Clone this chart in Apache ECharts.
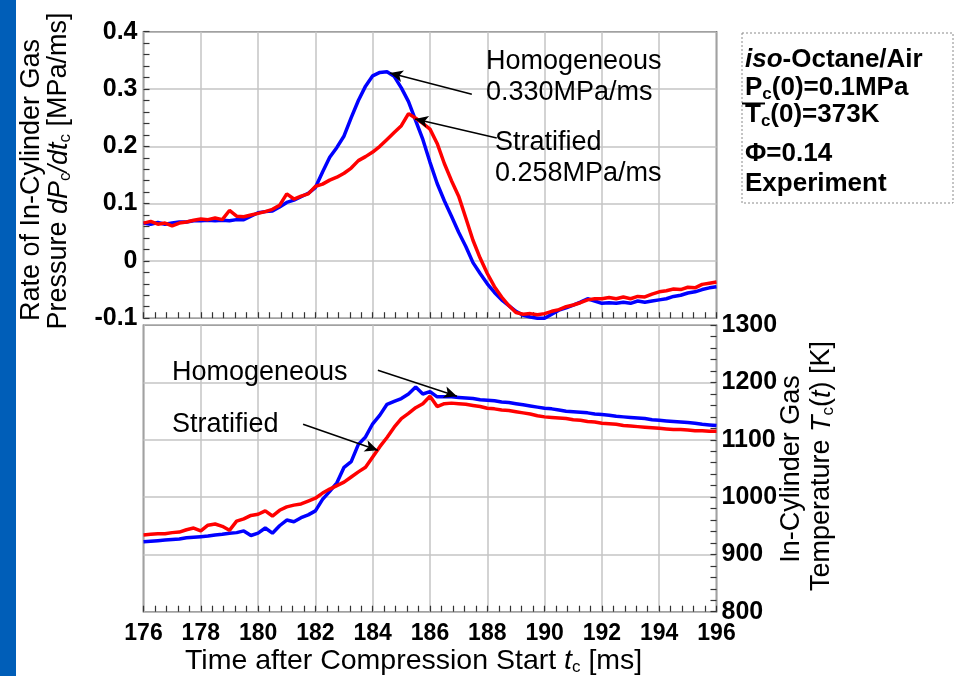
<!DOCTYPE html>
<html><head><meta charset="utf-8">
<script src="https://cdn.jsdelivr.net/npm/echarts@6.0.0/dist/echarts.min.js"></script>
<style>html,body{margin:0;padding:0;background:#fff}#c{width:957px;height:676px}</style>
</head><body><div id="c"></div>
<script>
// ---- data ----
const time = [176,176.25,176.5,176.75,177,177.25,177.5,177.75,178,178.25,178.5,178.75,179,179.25,179.5,179.75,180,180.25,180.5,180.75,181,181.25,181.5,181.75,182,182.25,182.5,182.75,183,183.25,183.5,183.75,184,184.25,184.5,184.75,185,185.25,185.5,185.75,186,186.25,186.5,186.75,187,187.25,187.5,187.75,188,188.25,188.5,188.75,189,189.25,189.5,189.75,190,190.25,190.5,190.75,191,191.25,191.5,191.75,192,192.25,192.5,192.75,193,193.25,193.5,193.75,194,194.25,194.5,194.75,195,195.25,195.5,195.75,196];

// dPc/dtc [MPa/ms]
const dpHomogeneous = [
  .066,.064,.067,.064, .066,.068,.068,.070, .070,.071,.070,.071, .070,.072,.072,.078,
  .084,.086,.087,.094, .102,.106,.112,.118, .128,.155,.181,.198, .218,.250,.280,.305,
  .323,.329,.330,.322, .302,.278,.245,.212, .172,.135,.105,.078, .050,.025,-.003,-.022,
  -.040,-.055,-.068,-.078, -.088,-.095,-.098,-.100, -.100,-.093,-.086,-.082, -.077,-.072,-.066,-.070,
  -.074,-.073,-.074,-.072, -.074,-.070,-.072,-.070, -.068,-.066,-.062,-.060, -.056,-.054,-.050,-.047,
  -.045];
const dpStratified = [
  .066,.069,.064,.066, .061,.066,.068,.071, .073,.072,.075,.072, .088,.078,.077,.080,
  .083,.086,.090,.097, .117,.108,.113,.117, .130,.134,.141,.146, .153,.162,.175,.182,
  .190,.200,.212,.224, .236,.257,.249,.240, .230,.205,.170,.140, .113,.075,.036,.005,
  -.022,-.045,-.063,-.078, -.090,-.093,-.092,-.094, -.092,-.088,-.085,-.080, -.077,-.073,-.068,-.066,
  -.066,-.064,-.066,-.063, -.066,-.062,-.063,-.058, -.054,-.052,-.049,-.050, -.046,-.047,-.041,-.039,
  -.037];

// Tc(t) [K]
const tempHomogeneous = [
  922,923,924,925, 926,927,929,930, 931,932,934,935, 937,938,941,933,
  937,946,937,950, 960,957,964,969, 976,996,1010,1025, 1052,1062,1092,1105,
  1128,1143,1162,1167, 1172,1180,1192,1180, 1184,1175,1175,1175, 1174,1173,1172,1170,
  1169,1168,1166,1165, 1163,1161,1159,1157, 1155,1154,1152,1150, 1149,1148,1147,1145,
  1144,1143,1141,1140, 1139,1138,1137,1135, 1134,1133,1132,1131, 1130,1129,1127,1126,
  1125];
const tempStratified = [
  934,935,936,936, 938,939,943,946, 941,951,953,949, 942,958,962,968,
  970,976,967,977, 983,986,988,993, 998,1007,1014,1020, 1026,1035,1044,1052,
  1070,1088,1104,1122, 1137,1146,1156,1163, 1176,1158,1163,1164, 1163,1162,1160,1158,
  1155,1154,1152,1151, 1149,1147,1145,1142, 1140,1139,1138,1137, 1135,1134,1132,1131,
  1129,1128,1127,1125, 1124,1123,1122,1121, 1120,1119,1118,1118, 1117,1116,1116,1115,
  1115];

const xTicks = [176,178,180,182,184,186,188,190,192,194,196];
const dpTicks = [-0.1,0,0.1,0.2,0.3,0.4];
const tempTicks = [800,900,1000,1100,1200,1300];

// annotation arrows (data coordinates: [from], [to])
const arrowsTop = [[[187.46,0.291],[184.6,0.328]], [[188.33,0.2145],[185.48,0.2477]]];
const arrowsBottom = [[[184.18,1221.5],[186.94,1176.1]], [[181.57,1127.2],[184.18,1081.8]]];

// ---- chart ----
const F = '"Liberation Sans", Arial, sans-serif';
const chart = echarts.init(document.getElementById('c'), null, {renderer:'canvas'});

const zip = (a) => time.map((t,i)=>[t,a[i]]);
const arrowML = (list) => ({
  silent: true, animation: false,
  symbol: ['none','arrow'], symbolSize: [9,13],
  label: {show:false},
  lineStyle: {color:'#000', width:1.5, type:'solid'},
  emphasis: {disabled:true},
  data: list.map(p => [{coord:p[0]},{coord:p[1]}])
});

const tick = {show:true, inside:true, length:6, lineStyle:{color:'#333', width:1.2}};
const minor = {show:true, splitNumber:5, length:6, lineStyle:{color:'#333', width:1.2}};
const split = {show:true, lineStyle:{color:'#c4c4c4', width:1.5}};

const sub = {fontSize:17, fontFamily:F, verticalAlign:'bottom', lineHeight:16, fill:'#000'};

function txt(x, y, text, rich, opts) {
  return Object.assign({type:'text', x, y, z:100, style:Object.assign({text, rich, fill:'#000', font:'27px '+F, align:'left', verticalAlign:'middle'}, opts && opts.style || {})}, opts && opts.el || {});
}
const baseRich = (size, weight) => ({
  a:{fontSize:size, fontFamily:F, fontWeight:weight, lineHeight:30, fill:'#000'},
  i:{fontSize:size, fontFamily:F, fontWeight:weight, fontStyle:'italic', lineHeight:30, fill:'#000'},
  s:Object.assign({}, sub, {fontWeight:weight})
});

const option = {
  animation:false,
  backgroundColor:'#fff',
  grid:[
    {left:143.5, top:31.7, width:573, height:286.5, show:true, borderColor:'#3a3a3a', borderWidth:1.5, backgroundColor:'transparent'},
    {left:143.5, top:325.2, width:573, height:286.5, show:true, borderColor:'#3a3a3a', borderWidth:1.5, backgroundColor:'transparent'}
  ],
  xAxis:[
    {type:'value', gridIndex:0, min:xTicks[0], max:xTicks[xTicks.length-1], interval:2,
     axisLine:{show:false, onZero:false}, axisTick:tick, minorTick:minor, splitLine:split, axisLabel:{show:false}},
    {type:'value', gridIndex:1, min:xTicks[0], max:xTicks[xTicks.length-1], interval:2,
     axisLine:{show:false, onZero:false}, axisTick:tick, minorTick:minor, splitLine:split,
     axisLabel:{show:true, margin:10, color:'#000', fontFamily:F, fontWeight:'bold', fontSize:23}}
  ],
  yAxis:[
    {type:'value', gridIndex:0, min:dpTicks[0], max:dpTicks[dpTicks.length-1], interval:0.1, position:'left',
     axisLine:{show:false, onZero:false}, axisTick:tick, minorTick:minor, splitLine:split,
     axisLabel:{show:true, margin:6, color:'#000', fontFamily:F, fontWeight:'bold', fontSize:25,
       formatter:(v)=>String(+v.toFixed(1))}},
    {type:'value', gridIndex:1, min:tempTicks[0], max:tempTicks[tempTicks.length-1], interval:100, position:'right',
     axisLine:{show:false, onZero:false}, axisTick:tick, minorTick:minor, splitLine:split,
     axisLabel:{show:true, margin:5, color:'#000', fontFamily:F, fontWeight:'bold', fontSize:25,
       formatter:(v)=>String(Math.round(v))}}
  ],
  series:[
    {name:'Homogeneous dP', type:'line', xAxisIndex:0, yAxisIndex:0, data:zip(dpHomogeneous), showSymbol:false, symbol:'none',
     lineStyle:{color:'#0000ff', width:3.5}, z:3},
    {name:'Stratified dP', type:'line', xAxisIndex:0, yAxisIndex:0, data:zip(dpStratified), showSymbol:false, symbol:'none',
     lineStyle:{color:'#ff0000', width:3.5}, z:4, markLine:arrowML(arrowsTop)},
    {name:'Homogeneous T', type:'line', xAxisIndex:1, yAxisIndex:1, data:zip(tempHomogeneous), showSymbol:false, symbol:'none',
     lineStyle:{color:'#0000ff', width:3.5}, z:3},
    {name:'Stratified T', type:'line', xAxisIndex:1, yAxisIndex:1, data:zip(tempStratified), showSymbol:false, symbol:'none',
     lineStyle:{color:'#ff0000', width:3.5}, z:4, markLine:arrowML(arrowsBottom)}
  ],
  graphic:[
    {type:'rect', shape:{x:0, y:0, width:16, height:676}, style:{fill:'#005eb8'}, z:0},
    // left axis title
    txt(32, 180, '{a|Rate of In-Cylinder Gas}', baseRich(27,'normal'), {el:{rotation:Math.PI/2}, style:{align:'center'}}),
    txt(59, 171, '{a|Pressure }{i|dP}{s|c}{i|/dt}{s|c}{a| [MPa/ms]}', baseRich(27,'normal'), {el:{rotation:Math.PI/2}, style:{align:'center'}}),
    // right axis title
    txt(792, 469, '{a|In-Cylinder Gas}', baseRich(27,'normal'), {el:{rotation:Math.PI/2}, style:{align:'center'}}),
    txt(822, 466, '{a|Temperature }{i|T}{s|c}{a|(}{i|t}{a|) [K]}', baseRich(27,'normal'), {el:{rotation:Math.PI/2}, style:{align:'center'}}),
    // x axis title
    txt(185, 661, '{a|Time after Compression Start }{i|t}{s|c}{a| [ms]}', baseRich(28.5,'normal')),
    // annotations
    txt(486, 62, '{a|Homogeneous}', baseRich(27,'normal')),
    txt(486, 93, '{a|0.330MPa/ms}', baseRich(27,'normal')),
    txt(495, 143, '{a|Stratified}', baseRich(27,'normal')),
    txt(495, 174, '{a|0.258MPa/ms}', baseRich(27,'normal')),
    txt(172, 373, '{a|Homogeneous}', baseRich(27,'normal')),
    txt(172, 425, '{a|Stratified}', baseRich(27,'normal')),
    // condition box
    {type:'rect', shape:{x:742, y:33, width:211, height:170}, style:{fill:'#fff', stroke:'#8a8a8a', lineWidth:1, lineDash:[2,2]}, z:90},
    txt(745, 60, '{i|iso}{a|-Octane/Air}', baseRich(26,'bold')),
    txt(745, 88, '{a|P}{s|c}{a|(0)=0.1MPa}', baseRich(26,'bold')),
    txt(745, 115, '{a|T}{s|c}{a|(0)=373K}', baseRich(26,'bold')),
    txt(745, 154, '{a|Φ=0.14}', baseRich(26,'bold')),
    txt(745, 184, '{a|Experiment}', baseRich(26,'bold')),
    {type:'line', shape:{x1:742, y1:103.5, x2:765, y2:103.5}, style:{stroke:'#000', lineWidth:2}, z:101}
  ]
};
chart.setOption(option);
</script></body></html>
